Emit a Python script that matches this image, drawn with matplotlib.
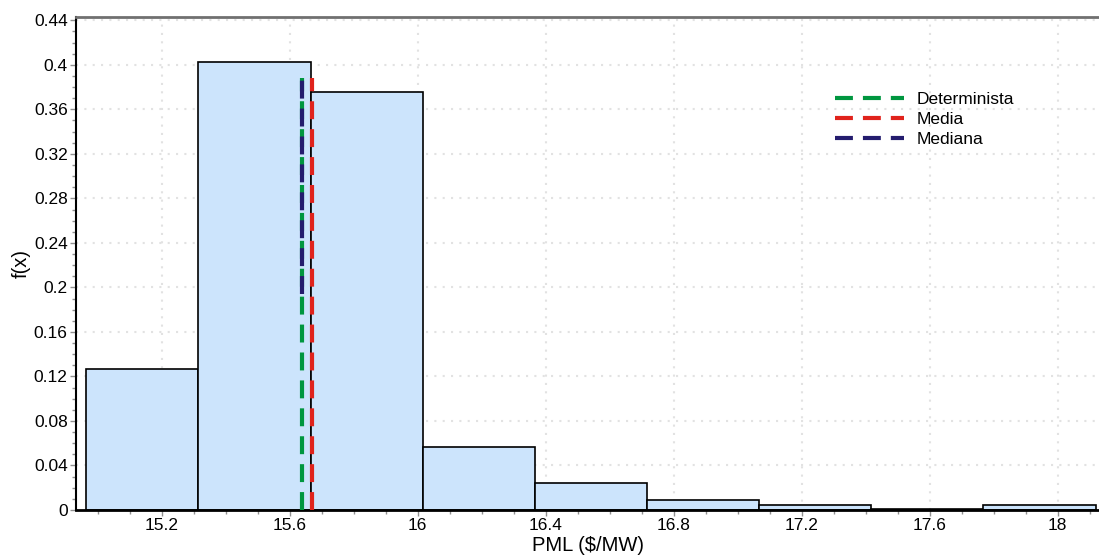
import numpy as np
import matplotlib.pyplot as plt
from matplotlib.ticker import MultipleLocator

plt.rcParams['font.family'] = ['Liberation Sans', 'DejaVu Sans']

# histogram of PML values (relative frequency per bin)
bin_edges = [14.964, 15.314, 15.665, 16.015, 16.366, 16.716, 17.067, 17.418, 17.768, 18.119]
freq = [0.127, 0.403, 0.376, 0.0567, 0.024, 0.0093, 0.0045, 0.001, 0.0045]

# reference values
determinista = 15.637
media = 15.668
mediana = 15.637
line_top = 0.388

fig = plt.figure(figsize=(10.99, 5.57), dpi=100)
ax = fig.add_axes([76 / 1099, 47 / 557, 1023 / 1099, 493 / 557])

widths = np.diff(bin_edges)
ax.bar(bin_edges[:-1], freq, width=widths, align='edge',
       color='#cce4fc', edgecolor='black', linewidth=1.2, zorder=2)

dash = (0, (4.3, 2.4))
ax.vlines(determinista, 0, line_top, colors='#00963f', linewidth=3,
          linestyle=dash, label='Determinista', zorder=3)
ax.vlines(media, 0, line_top, colors='#e0231c', linewidth=3,
          linestyle=dash, label='Media', zorder=3)
# median coincides with the deterministic value: draw it over the upper half
ax.vlines(mediana, line_top / 2, line_top, colors='#241c6e', linewidth=3,
          linestyle=dash, label='Mediana', zorder=4)

ax.set_xlim(14.932, 18.129)
ax.set_ylim(0, 0.443)
ax.xaxis.set_minor_locator(MultipleLocator(0.1))
ax.yaxis.set_minor_locator(MultipleLocator(0.01))
ax.set_xticks([15.2, 15.6, 16.0, 16.4, 16.8, 17.2, 17.6, 18.0])
ax.set_xticklabels(['15.2', '15.6', '16', '16.4', '16.8', '17.2', '17.6', '18'])
ax.set_yticks([0, 0.04, 0.08, 0.12, 0.16, 0.2, 0.24, 0.28, 0.32, 0.36, 0.4, 0.44])
ax.set_yticklabels(['0', '0.04', '0.08', '0.12', '0.16', '0.2', '0.24', '0.28',
                    '0.32', '0.36', '0.4', '0.44'])
ax.tick_params(which='both', direction='out', color='#909090', labelsize=12.5,
               pad=2)
ax.tick_params(which='major', length=4, width=1)
ax.tick_params(which='minor', length=3, width=1)

ax.grid(True, which='major', color='#e2e2e2', linestyle=(0, (1, 3)),
        linewidth=1.5, zorder=0)
ax.set_axisbelow(True)

ax.spines['right'].set_visible(False)
ax.spines['top'].set_color('#707070')
ax.spines['top'].set_linewidth(2)
ax.spines['left'].set_linewidth(1.5)
ax.spines['bottom'].set_linewidth(2)

ax.set_xlabel('PML (\\$/MW)', fontsize=14.5, labelpad=2)
ax.set_ylabel('f(x)', fontsize=14.5, labelpad=2)

ax.legend(loc='upper left', bbox_to_anchor=((835 - 76) / 1023, (510 - 92) / 493),
          frameon=False, fontsize=12.5, handlelength=4.0, handletextpad=0.7,
          labelspacing=0.28, borderpad=0, borderaxespad=0)

fig.savefig('out.png', dpi=100)
